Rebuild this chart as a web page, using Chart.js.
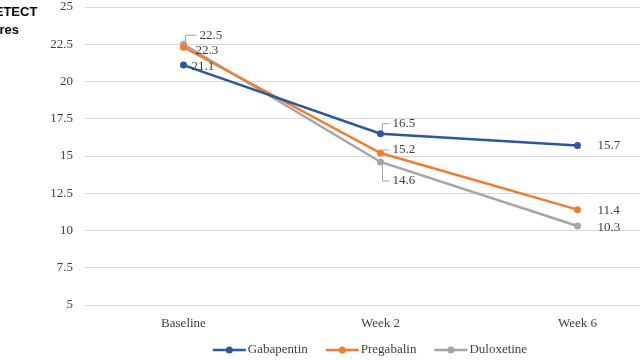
<!DOCTYPE html>
<html>
<head>
<meta charset="utf-8">
<script src="https://cdn.jsdelivr.net/npm/chart.js@4"></script>
<style>
  html, body { margin: 0; padding: 0; background: #fff; overflow: hidden; }
  #wrap { position: absolute; left: 0; top: 0; width: 740px; height: 360px; }
</style>
</head>
<body>
<div id="wrap"><canvas id="painChart"></canvas></div>
<script>
const categories = ['Baseline', 'Week 2', 'Week 6'];
const gabapentin = [21.1, 16.5, 15.7];
const pregabalin = [22.3, 15.2, 11.4];
const duloxetine = [22.5, 14.6, 10.3];
const seriesNames = ['Gabapentin', 'Pregabalin', 'Duloxetine'];
const yTicks = [5, 7.5, 10, 12.5, 15, 17.5, 20, 22.5, 25];

const colors = ['#2A579E', '#ED7D31', '#A5A5A5'];
// label offsets from the point [dx, dy, leader line]
const labelOffsets = [
  [[8, 1, false], [12, -10, true], [20, 0, false]],
  [[12, 3, false], [12, -3, true], [20, 1, false]],
  [[16, -9, true], [12, 19, true], [20, 2, false]]
];

const serif = '"Liberation Serif", "DejaVu Serif", serif';

// value labels, axis title and the legend row
const extras = {
  id: 'extras',
  afterDatasetsDraw(chart) {
    const ctx = chart.ctx;
    ctx.save();
    ctx.font = '13px ' + serif;
    ctx.fillStyle = '#404040';
    ctx.textBaseline = 'middle';
    ctx.textAlign = 'left';
    chart.data.datasets.forEach((ds, i) => {
      chart.getDatasetMeta(i).data.forEach((pt, j) => {
        const [dx, dy, leader] = labelOffsets[i][j];
        const lx = pt.x + dx, ly = pt.y + dy;
        if (leader) {
          ctx.strokeStyle = '#a6a6a6';
          ctx.lineWidth = 1;
          ctx.beginPath();
          ctx.moveTo(pt.x + 2, pt.y + (dy < 0 ? -3 : 3));
          ctx.lineTo(pt.x + 2, ly);
          ctx.lineTo(lx - 3, ly);
          ctx.stroke();
        }
        ctx.fillText(ds.data[j].toFixed(1), lx, ly);
      });
    });

    // legend
    const lineLen = 33, gapText = 2, gapItem = 18;
    const widths = seriesNames.map(n => lineLen + gapText + ctx.measureText(n).width);
    const total = widths.reduce((a, b) => a + b, 0) + gapItem * (widths.length - 1);
    let x = 370 - total / 2;
    const y = 350;
    seriesNames.forEach((name, i) => {
      ctx.strokeStyle = colors[i];
      ctx.fillStyle = colors[i];
      ctx.lineWidth = 2.5;
      ctx.beginPath(); ctx.moveTo(x, y); ctx.lineTo(x + lineLen, y); ctx.stroke();
      ctx.beginPath(); ctx.arc(x + lineLen / 2, y, 3.5, 0, Math.PI * 2); ctx.fill();
      ctx.fillStyle = '#404040';
      ctx.fillText(name, x + lineLen + gapText, y);
      x += widths[i] + gapItem;
    });

    // axis title, cut at the left edge as in the picture
    ctx.font = 'bold 13px "Liberation Sans", Arial, sans-serif';
    ctx.fillStyle = '#000';
    ctx.textAlign = 'center';
    ctx.fillText('painDETECT', -2, 12);
    ctx.fillText('scores', -2, 30);
    ctx.restore();
  }
};

const allSeries = [gabapentin, pregabalin, duloxetine];

new Chart(document.getElementById('painChart'), {
  type: 'line',
  data: {
    labels: categories,
    datasets: allSeries.map((vals, i) => ({
      label: seriesNames[i],
      data: vals,
      borderColor: colors[i],
      backgroundColor: colors[i],
      borderWidth: 2.5,
      pointRadius: 3.5,
      pointBackgroundColor: colors[i],
      pointBorderWidth: 0,
      tension: 0
    }))
  },
  options: {
    responsive: true,
    maintainAspectRatio: false,
    animation: false,
    layout: { padding: { top: 7, right: 64, bottom: 0, left: 0 } },
    plugins: {
      tooltip: { enabled: false },
      legend: { display: false }
    },
    scales: {
      x: {
        offset: true,
        grid: { display: false },
        border: { display: false },
        ticks: { color: '#404040', font: { family: serif, size: 13 }, padding: 3 },
        afterFit(s) { s.height = 55; }
      },
      y: {
        min: 5,
        max: 25,
        afterBuildTicks(s) { s.ticks = yTicks.map(v => ({ value: v })); },
        grid: { color: '#d9d9d9', lineWidth: 1, drawTicks: false },
        border: { display: false },
        ticks: { color: '#404040', font: { family: serif, size: 13 }, padding: 12 },
        afterFit(s) { s.width = 85; s.paddingTop = 0; s.paddingBottom = 0; }
      }
    }
  },
  plugins: [extras]
});
</script>
</body>
</html>
